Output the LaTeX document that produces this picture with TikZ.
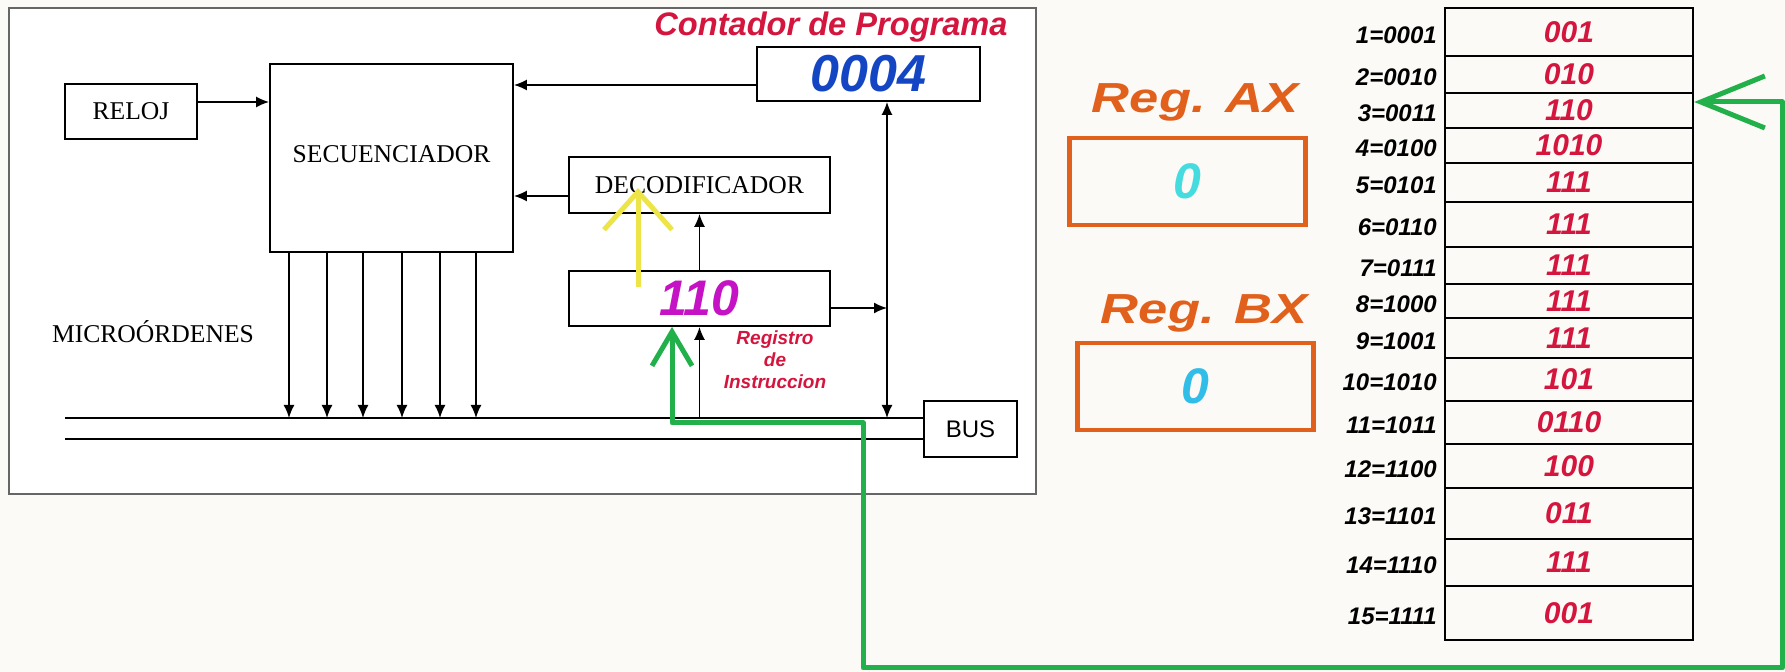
\documentclass[tikz,border=0pt]{standalone}
\usepackage{fontspec}
\setmainfont{Liberation Serif}
\setsansfont{Liberation Sans}
\usetikzlibrary{arrows.meta}

\definecolor{pcred}{HTML}{D4153E}
\definecolor{regorange}{HTML}{E0601C}
\definecolor{irmagenta}{HTML}{C412C4}
\definecolor{pcblue}{HTML}{1446C4}
\definecolor{pathgreen}{HTML}{22B04A}
\definecolor{hiyellow}{HTML}{EDE447}
\definecolor{paper}{HTML}{FCFAF6}
\definecolor{axcyan}{HTML}{45DCE0}
\definecolor{bxcyan}{HTML}{30BDE8}

\begin{document}
\begin{tikzpicture}[
  x=0.5pt, y=-0.5pt,
  block/.style={draw,line width=0.9pt,inner sep=0pt,font=\fontsize{12.8}{14}\selectfont},
  bigsf/.style={font=\sffamily\bfseries\itshape\fontsize{#1}{#1}\selectfont},
  arr/.style={line width=0.8pt,-{Latex[length=6.5pt,width=5.5pt]}},
  dblarr/.style={line width=0.8pt,{Latex[length=6.5pt,width=5.5pt]}-{Latex[length=6.5pt,width=5.5pt]}},
  regbox/.style={draw=regorange,line width=2.3pt,minimum width=118pt,minimum height=43.5pt,bigsf=25},
  regname/.style={text=regorange,bigsf=21},
  cell/.style={draw,line width=1.2pt,minimum width=124pt,inner sep=0pt,text=pcred,bigsf=15},
  addr/.style={anchor=east,bigsf=12}
]
  \fill[paper] (0,0) rectangle (1785,672);
  \useasboundingbox (0,0) rectangle (1785,672);
  \draw[gray!80!black,line width=1pt,fill=white] (9,8) rectangle (1036,494);

  % unidad de control
  \node[block,minimum width=66pt,minimum height=27.5pt] (reloj) at (131,111.5) {RELOJ};
  \node[block,minimum width=121.5pt,minimum height=94pt] (sec) at (391.5,158) {\raisebox{3.5pt}{SECUENCIADOR}};
  \node[block,minimum width=111.5pt,minimum height=27pt,text=pcblue,bigsf=26] (pc) at (868.5,74) {0004};
  \node[block,minimum width=130.5pt,minimum height=28pt] (deco) at (699.5,185) {DECODIFICADOR};
  \node[block,minimum width=130.5pt,minimum height=27.5pt,text=irmagenta,bigsf=25] (ir) at (699.5,298.5) {110};
  \node[block,minimum width=46.5pt,minimum height=28pt,font=\sffamily\fontsize{12}{14}\selectfont] (bus) at (970.5,429) {BUS};
  \node[font=\fontsize{12.8}{14}\selectfont] (micro) at (153,332) {MICROÓRDENES};
  \node[text=pcred,bigsf=16.3] (pclabel) at (831,27) {Contador de Programa};
  \node[text=pcred,align=center,font=\sffamily\bfseries\itshape\fontsize{9.5}{11}\selectfont] (irlabel) at (775,360) {Registro\\de\\Instruccion};

  \coordinate (busA) at (65,418);
  \coordinate (busB) at (65,439);
  \coordinate (bv) at (887,418);
  \draw[line width=0.9pt] (busA) -- (busA -| bus.west);
  \draw[line width=0.9pt] (busB) -- (busB -| bus.west);

  \draw[arr] ([yshift=4.75pt]reloj.east) -- ([yshift=4.75pt]reloj.east -| sec.west);
  \draw[arr] ([yshift=-5.5pt]pc.west) -- ([yshift=-5.5pt]pc.west -| sec.east);
  \draw[arr] ([yshift=-5.5pt]deco.west) -- ([yshift=-5.5pt]deco.west -| sec.east);
  \draw[arr] (ir.north) -- (deco.south);
  \draw[arr] (ir.south |- bv) -- (ir.south);
  \draw[arr] ([yshift=-4.75pt]ir.east) -- ([yshift=-4.75pt]ir.east -| bv);
  \draw[dblarr] (bv |- pc.south) -- (bv);
  \foreach \x in {289,327,363,402,440,476}
    \draw[arr] (sec.south -| \x,0) -- (\x,0 |- bv);

  % registros
  \node[regname] (axname) at (1195,102) {\scalebox{1.25}[1]{Reg. AX}};
  \node[regbox,text=axcyan] (ax) at (1187.5,181.5) {0};
  \node[regname] (bxname) at (1204,313) {\scalebox{1.25}[1]{Reg. BX}};
  \node[regbox,text=bxcyan] (bx) at (1195.5,386.5) {0};

  % memoria
  \foreach \n/\b/\ya/\yb/\v in {1/0001/8/56/001, 2/0010/56/93/010, 3/0011/93/128/110,
      4/0100/128/163/1010, 5/0101/163/202/111, 6/0110/202/247/111, 7/0111/247/284/111,
      8/1000/284/318/111, 9/1001/318/358/111, 10/1010/358/401/101, 11/1011/401/444/0110,
      12/1100/444/488/100, 13/1101/488/539/011, 14/1110/539/586/111, 15/1111/586/640/001}{
    \node[cell,minimum height={(\yb-\ya)*0.5pt}] (m\n) at (1569,{(\ya+\yb)/2}) {\v};
    \node[addr] (a\n) at ([yshift=-1.5pt]m\n.west) {\n=\b};
  }

  % flechas de colores
  \coordinate (ya) at (638,287);
  \coordinate (yb) at (638,188);
  \draw[hiyellow,line width=2.5pt,-{Straight Barb[length=19pt,width=34pt]}] (ya) -- (yb);

  \coordinate (gA) at (672,423);
  \coordinate (gB) at (863,423);
  \coordinate (gC) at (863,668);
  \coordinate (gD) at (1782,668);
  \coordinate (gE) at (1782,102);
  \draw[pathgreen,line width=2.5pt,line join=round,
    {Straight Barb[length=17pt,width=20pt]}-{Straight Barb[length=32pt,width=26pt]}]
    (gA |- ir.south) -- (gA) -- (gB) -- (gC) -- (gD) -- (gE) -- (gE -| m3.east);
\end{tikzpicture}
\end{document}
